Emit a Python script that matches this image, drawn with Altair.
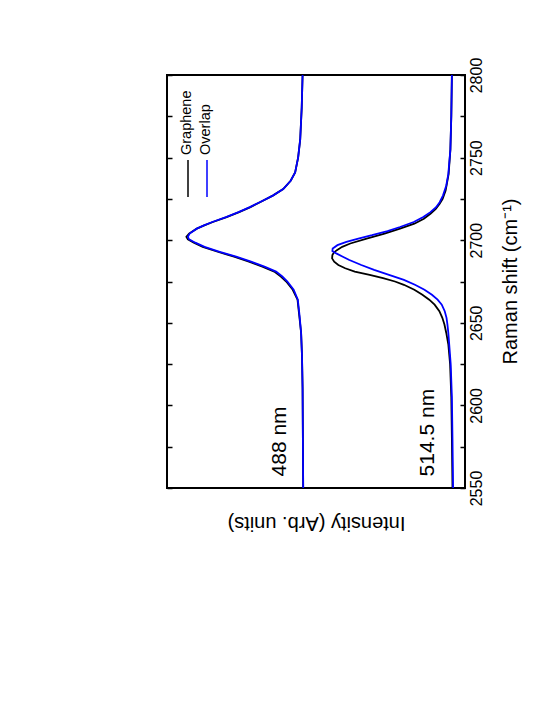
import altair as alt
import pandas as pd

# Raman shift (cm^-1) and intensity (arb. units)
g488_shift = [2550, 2580, 2610, 2630, 2644, 2654, 2664, 2670, 2675, 2678, 2681, 2684, 2687, 2690, 2693,
              2696, 2698.5, 2700.5, 2702, 2704, 2707, 2709, 2711, 2714, 2717, 2720, 2723, 2727, 2731,
              2736, 2741, 2750, 2761, 2780, 2800]
g488_int = [54.3, 54.4, 54.5, 54.7, 55.0, 55.6, 56.2, 57.8, 60.0, 61.8, 64.0, 68.0, 72.5, 77.5, 83.0,
            88.0, 91.0, 93.0, 93.5, 92.6, 90.0, 87.5, 84.6, 80.0, 75.8, 72.0, 68.8, 64.5, 61.0,
            58.5, 57.0, 56.0, 55.3, 54.8, 54.5]
o488_shift = g488_shift
o488_int = [54.3, 54.4, 54.5, 54.7, 55.0, 55.5, 56.1, 57.5, 59.6, 61.3, 63.4, 67.3, 71.8, 76.8, 82.3,
            87.4, 90.5, 92.6, 93.0, 92.4, 90.0, 87.6, 84.8, 80.2, 76.0, 72.2, 68.9, 64.5, 61.0,
            58.5, 57.0, 56.0, 55.3, 54.8, 54.5]

g514_shift = [2550, 2580, 2605, 2625, 2637, 2644, 2649, 2653, 2657, 2661, 2664, 2667, 2670, 2673, 2675,
              2677, 2679, 2681, 2683, 2685, 2687, 2689, 2691, 2692.5, 2694, 2696, 2698, 2701, 2704,
              2707, 2710, 2713, 2716, 2719, 2722, 2725, 2730, 2740, 2755, 2775, 2800]
g514_int = [4.2, 4.4, 4.6, 5.0, 5.6, 6.3, 6.9, 7.6, 8.6, 10.2, 12.0, 14.3, 17.0, 20.5, 23.5,
            27.5, 32.0, 37.0, 40.2, 42.5, 43.9, 44.6, 44.5, 44.0, 43.0, 41.2, 38.5, 33.0, 27.0,
            21.8, 17.0, 13.8, 11.6, 9.8, 8.5, 7.5, 6.5, 5.5, 4.9, 4.6, 4.4]
o514_shift = [2550, 2580, 2605, 2625, 2637, 2644, 2649, 2653, 2657, 2661, 2664, 2667, 2670, 2673, 2676,
              2679, 2682, 2685, 2688, 2690, 2692, 2693.5, 2695, 2697, 2699, 2701, 2703, 2705.5, 2708,
              2711, 2714, 2717, 2720, 2723, 2727, 2733, 2740, 2755, 2775, 2800]
o514_int = [4.0, 4.2, 4.4, 4.8, 5.3, 5.6, 5.9, 6.2, 6.8, 7.8, 9.2, 11.1, 13.6, 16.8, 20.5,
            25.5, 30.5, 34.8, 38.8, 41.0, 43.2, 44.5, 44.4, 42.8, 39.8, 35.8, 31.2, 26.0, 21.8,
            17.2, 14.0, 11.6, 9.7, 8.5, 7.4, 6.3, 5.6, 4.9, 4.6, 4.4]

tick_vals = [2550, 2575, 2600, 2625, 2650, 2675, 2700, 2725, 2750, 2775, 2800]
legend_labels = ["Graphene", "Overlap"]
laser_labels = ["488 nm", "514.5 nm"]
label_x = [62.1, 12.4]
label_y = [2557, 2557]

FONT = "Liberation Sans"


def frame(series, laser, shifts, ints):
    return pd.DataFrame({"series": series, "laser": laser, "shift": shifts, "intensity": ints})


graphene = pd.concat([frame("Graphene", "488", g488_shift, g488_int),
                      frame("Graphene", "514.5", g514_shift, g514_int)])
overlap = pd.concat([frame("Overlap", "488", o488_shift, o488_int),
                     frame("Overlap", "514.5", o514_shift, o514_int)])

x_axis = alt.Axis(orient="bottom", ticks=False, labels=False, domain=False, grid=False,
                  title="Intensity (Arb. units)", titleAngle=180, titleX=149, titleY=34,
                  titleAlign="center", titleBaseline="middle", titleFontSize=20,
                  titleFontWeight="normal", titleFont=FONT, titleColor="black")
x_scale = alt.Scale(domain=[0, 100], reverse=True, nice=False, zero=False)
y_scale = alt.Scale(domain=[2550, 2800], nice=False, zero=False)

right_axis = alt.Axis(orient="right", values=tick_vals, format="d",
                      labelExpr="datum.value % 50 == 0 ? datum.label : ''",
                      tickSize=5, tickWidth=1.5, tickColor="black", offset=-5,
                      domain=False, grid=False, labelAngle=270, labelAlign="center",
                      labelBaseline="top", labelPadding=3, labelFontSize=16, labelFont=FONT,
                      labelColor="black", title="Raman shift (cm\u207b\u00b9)", titleAngle=270,
                      titleX=50, titleY=206, titleAlign="center", titleBaseline="middle",
                      titleFontSize=20, titleFontWeight="normal", titleFont=FONT,
                      titleColor="black")
left_axis = alt.Axis(orient="left", values=tick_vals, labels=False, tickSize=5, tickWidth=1.5,
                     tickColor="black", offset=-5, domain=False, grid=False, title=None)

black_lines = alt.Chart(graphene).mark_line(color="black", strokeWidth=1.8).encode(
    x=alt.X("intensity:Q", scale=x_scale, axis=x_axis),
    y=alt.Y("shift:Q", scale=y_scale, axis=right_axis),
    detail="laser:N",
    order="shift:Q",
)
blue_lines = alt.Chart(overlap).mark_line(color="#0000ff", strokeWidth=1.8).encode(
    x=alt.X("intensity:Q", scale=x_scale, axis=x_axis),
    y=alt.Y("shift:Q", scale=y_scale, axis=left_axis),
    detail="laser:N",
    order="shift:Q",
)

ann = alt.Chart(pd.DataFrame({"label": laser_labels, "ix": label_x, "iy": label_y})).mark_text(
    angle=270, align="left", baseline="middle", fontSize=21, font=FONT, color="black"
).encode(
    x=alt.X("ix:Q", scale=x_scale, axis=x_axis),
    y=alt.Y("iy:Q", scale=y_scale, axis=None),
    text="label:N",
)

leg_layers = []
for lab, col, px in zip(legend_labels, ["black", "#0000ff"], [21, 40]):
    leg_layers.append(
        alt.Chart(pd.DataFrame({"label": [lab]})).mark_rule(color=col, strokeWidth=1.5).encode(
            x=alt.value(px), y=alt.value(85), y2=alt.value(122)))
    leg_layers.append(
        alt.Chart(pd.DataFrame({"label": [lab]})).mark_text(
            angle=270, align="left", baseline="middle", fontSize=14.5, font=FONT, color="black"
        ).encode(x=alt.value(px - 1), y=alt.value(80), text="label:N"))

chart = alt.layer(black_lines, blue_lines, ann, *leg_layers).resolve_axis(
    y="independent"
).properties(
    width=298, height=413,
    autosize=alt.AutoSizeParams(type="none"),
    padding={"left": 159, "top": 67, "right": 70, "bottom": 60},
    background="white",
).configure_view(stroke="black", strokeWidth=2)

chart.save("out.html", embed_options={"renderer": "svg", "actions": False})
